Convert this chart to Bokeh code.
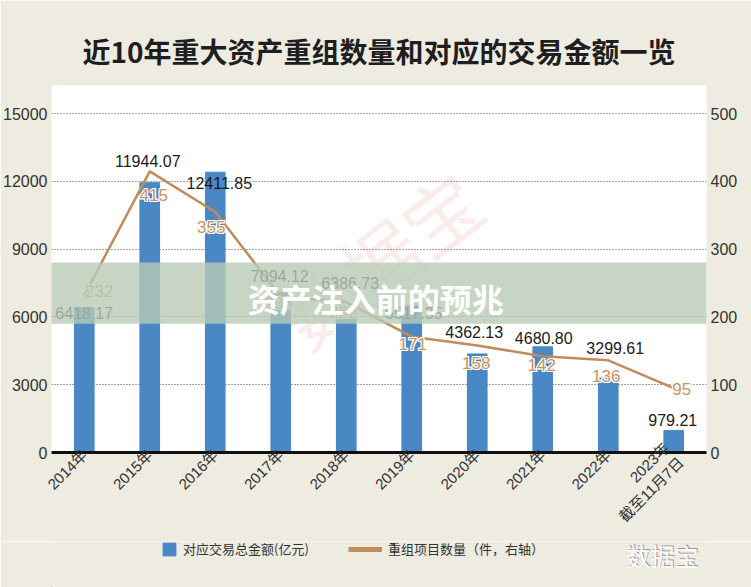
import math
from bokeh.plotting import figure
from bokeh.layouts import column
from bokeh.models import (ColumnDataSource, Range1d, LinearAxis, FixedTicker,
                          Legend, LegendItem, Label, BoxAnnotation)
from bokeh.core.properties import value
from bokeh.embed import file_html
from bokeh.resources import INLINE

# ---------------- data ----------------
years = ["2014年", "2015年", "2016年", "2017年", "2018年", "2019年",
         "2020年", "2021年", "2022年", "2023年\n截至11月7日"]
amounts = [6418.17, 11944.07, 12411.85, 7094.12, 6386.73, 6517.35,
           4362.13, 4680.80, 3299.61, 979.21]
counts = [232, 415, 355, 230, 222, 171, 158, 142, 136, 95]
left_ticks = [0, 3000, 6000, 9000, 12000, 15000]
right_ticks = [0, 100, 200, 300, 400, 500]
title_text = "近10年重大资产重组数量和对应的交易金额一览"
banner_text = "资产注入前的预兆"
watermark_text = "数据宝"
legend_labels = ["对应交易总金额(亿元)", "重组项目数量（件，右轴）"]

# label offsets in pixels (right, down)
amt_dx = [0, -2, 4, -1, 4, 2, -3, 1, 7, -1]
amt_dy = [5, -22, 11, -16, -25, 8, -22, -9, -30, -10]
cnt_dx = [15, 4, -4, -2, -3, 1, -1, -1, -2, 8]
cnt_dy = [-4, 24, 15, 6, 10, 7, 18, 9, 16, 1]

NUM_FONT = "'Liberation Sans', 'Noto Sans CJK SC'"
CJK_FONT = "'Noto Sans CJK SC'"
BAR_COLOR = "#4a87c5"
LINE_COLOR = "#c18b5a"
BG = "#eeebe1"
W, H_MAIN, H_STRIP = 751, 541, 46
FRAME_L, FRAME_R = 50, 706

data = dict(
    year=years, amount=amounts, count=counts,
    amt_label=[f"{v:.2f}" for v in amounts],
    cnt_label=[str(c) for c in counts],
    amt_dx=amt_dx, amt_dy=amt_dy, cnt_dx=cnt_dx, cnt_dy=cnt_dy,
)
halo = [(-1, 0), (1, 0), (0, -1), (0, 1), (-1, -1), (1, 1), (-1, 1), (1, -1)]
for i, (hx, hy) in enumerate(halo):
    data[f"hx{i}"] = [d + hx for d in cnt_dx]
    data[f"hy{i}"] = [d + hy for d in cnt_dy]
src = ColumnDataSource(data)

p = figure(width=W, height=H_MAIN, x_range=years, y_range=Range1d(0, 16250),
           output_backend="svg", toolbar_location=None,
           min_border_left=FRAME_L, min_border_right=W - FRAME_R,
           min_border_top=85, min_border_bottom=H_MAIN - 452)
p.extra_y_ranges = {"cnt": Range1d(0, 16250 / 30.0)}
p.background_fill_color = "white"
p.border_fill_color = BG
p.outline_line_color = None

# title
p.title.text = title_text
p.title.align = "center"
p.title.text_font = CJK_FONT
p.title.text_font_size = "28px"
p.title.text_font_style = "bold"
p.title.text_color = "#1e1e1e"
p.title.standoff = 30

# axes
p.yaxis.ticker = FixedTicker(ticks=left_ticks)
right_ax = LinearAxis(y_range_name="cnt", ticker=FixedTicker(ticks=right_ticks))
p.add_layout(right_ax, "right")
for ax in [p.yaxis[0], right_ax]:
    ax.axis_line_color = None
    ax.major_tick_line_color = None
    ax.minor_tick_line_color = None
    ax.major_tick_out = 0
    ax.major_tick_in = 0
    ax.major_label_text_font = NUM_FONT
    ax.major_label_text_font_size = "16px"
    ax.major_label_text_color = "#333333"
    ax.major_label_standoff = 4

xa = p.xaxis[0]
xa.axis_line_color = "#111111"
xa.axis_line_width = 3
xa.major_tick_line_color = None
xa.minor_tick_line_color = None
xa.major_tick_out = 0
xa.major_tick_in = 0
xa.major_label_orientation = math.pi / 4
xa.major_label_text_font = NUM_FONT
xa.major_label_text_font_size = "15px"
xa.major_label_text_color = "#333333"
xa.major_label_standoff = 0

p.xgrid.grid_line_color = None
p.ygrid.ticker = FixedTicker(ticks=left_ticks[1:])
p.ygrid.grid_line_color = "#444444"
p.ygrid.grid_line_dash = "1 2"
p.ygrid.grid_line_width = 1

# watermark (pink, behind)
p.add_layout(Label(x=5.0, y=8600, text=watermark_text, angle=0.65,
                   text_font=CJK_FONT, text_font_size="76px",
                   text_color="#e06060", text_alpha=0.12,
                   text_align="center", text_baseline="middle", level="underlay"))

# bars and line
bar_r = p.vbar(x="year", top="amount", width=0.3, color=BAR_COLOR, source=src)
line_r = p.line(x="year", y="count", y_range_name="cnt", line_color=LINE_COLOR,
                line_width=2.5, source=src)

# amount labels
p.text(x="year", y="amount", text="amt_label", x_offset="amt_dx", y_offset="amt_dy",
       text_align="center", text_baseline="middle", text_font=value(NUM_FONT),
       text_font_size="16px", text_color="#1a1a1a", source=src)

# count labels with white halo
for i in range(len(halo)):
    p.text(x="year", y="count", text="cnt_label",
           x_offset=f"hx{i}", y_offset=f"hy{i}",
           y_range_name="cnt", text_align="center", text_baseline="middle",
           text_font=value(NUM_FONT), text_font_size="17px", text_color="white",
           source=src)
p.text(x="year", y="count", text="cnt_label", x_offset="cnt_dx", y_offset="cnt_dy",
       y_range_name="cnt", text_align="center", text_baseline="middle",
       text_font=value(NUM_FONT), text_font_size="17px", text_color="#c8935f",
       source=src)

# banner overlay
p.add_layout(BoxAnnotation(left=-0.8, right=10.8, bottom=5700, top=8410,
                           fill_color="#b9cbb7", fill_alpha=0.8, line_color=None))
p.add_layout(Label(x=4.95, y=6860, text=banner_text, text_font=CJK_FONT,
                   text_font_size="32px", text_font_style="bold", text_color="white",
                   text_align="center", text_baseline="middle"))

# ---------------- legend strip (frame aligned with the chart frame) ----------------
q = figure(width=W, height=H_STRIP, x_range=Range1d(FRAME_L, FRAME_R),
           y_range=Range1d(0, H_STRIP),
           output_backend="svg", toolbar_location=None,
           x_axis_location=None, y_axis_location=None,
           min_border_left=FRAME_L, min_border_right=W - FRAME_R,
           min_border_top=0, min_border_bottom=0)
q.background_fill_color = BG
q.border_fill_color = BG
q.outline_line_color = None
q.grid.visible = False

# off-screen proxy renderers, used only for the legend swatches
sq_proxy = q.vbar(x=[-1000], top=[1], width=1, color=BAR_COLOR)
ln_proxy = q.line(x=[-1000, -999], y=[0, 0], line_color=LINE_COLOR, line_width=5)
for item, sx, gw in [(LegendItem(label=legend_labels[0], renderers=[sq_proxy]), 160, 16),
                     (LegendItem(label=legend_labels[1], renderers=[ln_proxy]), 347, 34)]:
    lg = Legend(items=[item], location=(sx - FRAME_L, 29), glyph_width=gw, glyph_height=16,
                label_height=16, label_text_font=CJK_FONT, label_text_font_size="13px",
                label_text_color="#333333", background_fill_alpha=0,
                border_line_color=None, padding=0, margin=0, label_standoff=6)
    q.add_layout(lg, "center")

for col, dx, dy in [("#9a9a9a", 1, 1), ("white", 0, 0)]:
    q.add_layout(Label(x=FRAME_R - 8, y=32, x_offset=dx, y_offset=dy, text=watermark_text,
                       text_font=CJK_FONT, text_font_size="24px", text_color=col,
                       text_align="right", text_baseline="middle"))

layout = column(p, q, spacing=0)
open("out.html", "w").write(file_html(layout, INLINE))
